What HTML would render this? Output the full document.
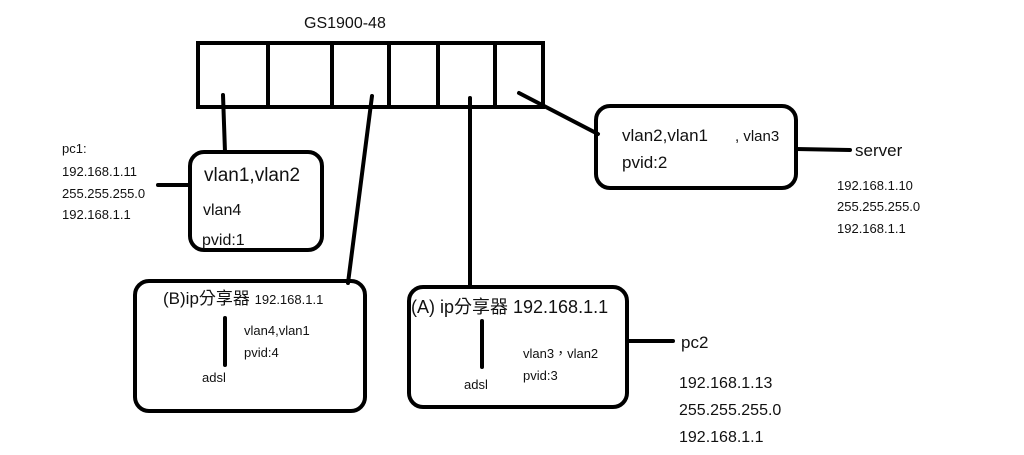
<!DOCTYPE html>
<html><head><meta charset="utf-8"><style>
html,body{margin:0;padding:0;background:#fff;width:1024px;height:455px;overflow:hidden}
svg text{font-family:"Liberation Sans","Noto Sans CJK TC",sans-serif;fill:#111}
</style></head><body>
<svg width="1024" height="455" viewBox="0 0 1024 455" xmlns="http://www.w3.org/2000/svg">
<g stroke="#000" stroke-width="4" fill="none" stroke-linecap="round">
<rect x="198" y="43" width="345" height="64"/>
<line x1="268" y1="45" x2="268" y2="105"/>
<line x1="332" y1="45" x2="332" y2="105"/>
<line x1="389" y1="45" x2="389" y2="105"/>
<line x1="438" y1="45" x2="438" y2="105"/>
<line x1="495" y1="45" x2="495" y2="105"/>
<line x1="223" y1="95" x2="225" y2="152"/>
<line x1="372" y1="96" x2="348" y2="283"/>
<line x1="470" y1="98" x2="470" y2="286"/>
<line x1="519" y1="93" x2="598" y2="134"/>
<rect x="190" y="152" width="132" height="98" rx="14"/>
<line x1="158" y1="185" x2="190" y2="185"/>
<rect x="135" y="281" width="230" height="130" rx="14"/>
<line x1="225" y1="318" x2="225" y2="365"/>
<rect x="409" y="287" width="218" height="120" rx="14"/>
<line x1="482" y1="321" x2="482" y2="367"/>
<line x1="627" y1="341" x2="673" y2="341"/>
<rect x="596" y="106" width="200" height="82" rx="14"/>
<line x1="796" y1="149" x2="850" y2="150"/>
</g>
<text x="304" y="28" font-size="16">GS1900-48</text>
<text x="62" y="153" font-size="13">pc1:</text>
<text x="62" y="176" font-size="13">192.168.1.11</text>
<text x="62" y="198" font-size="13">255.255.255.0</text>
<text x="62" y="219" font-size="13">192.168.1.1</text>
<text x="204" y="181" font-size="19">vlan1,vlan2</text>
<text x="203" y="215" font-size="16">vlan4</text>
<text x="202" y="245" font-size="16">pvid:1</text>
<text x="163" y="304" font-size="17">(B)ip分享器 <tspan font-size="13">192.168.1.1</tspan></text>
<text x="244" y="335" font-size="13">vlan4,vlan1</text>
<text x="244" y="357" font-size="13">pvid:4</text>
<text x="202" y="382" font-size="13">adsl</text>
<text x="411" y="313" font-size="18">(A) ip分享器 192.168.1.1</text>
<text x="523" y="358" font-size="13">vlan3，vlan2</text>
<text x="523" y="380" font-size="13">pvid:3</text>
<text x="464" y="389" font-size="13">adsl</text>
<text x="681" y="348" font-size="17">pc2</text>
<text x="679" y="388" font-size="16">192.168.1.13</text>
<text x="679" y="415" font-size="16">255.255.255.0</text>
<text x="679" y="442" font-size="16">192.168.1.1</text>
<text x="622" y="141" font-size="17">vlan2,vlan1</text>
<text x="735" y="141" font-size="15">, vlan3</text>
<text x="622" y="168" font-size="17">pvid:2</text>
<text x="855" y="156" font-size="17">server</text>
<text x="837" y="190" font-size="13">192.168.1.10</text>
<text x="837" y="211" font-size="13">255.255.255.0</text>
<text x="837" y="233" font-size="13">192.168.1.1</text>
</svg>
</body></html>
